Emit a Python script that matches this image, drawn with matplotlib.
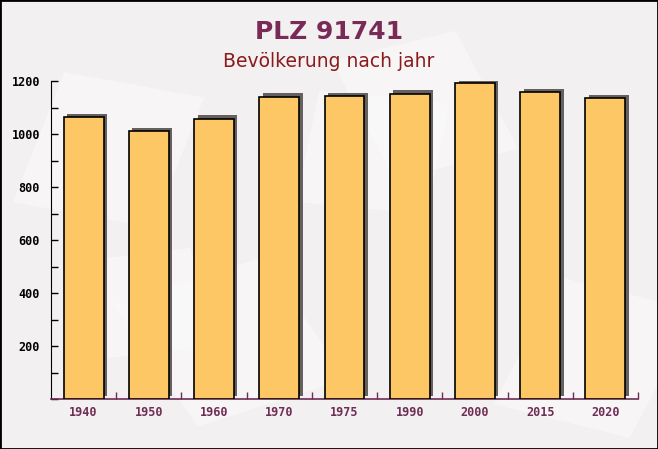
import matplotlib
matplotlib.use("Agg")
import matplotlib.pyplot as plt
from matplotlib.transforms import ScaledTranslation
from matplotlib.patches import Rectangle
from matplotlib.ticker import MultipleLocator

years = ["1940", "1950", "1960", "1970", "1975", "1990", "2000", "2015", "2020"]
population = [1064, 1011, 1057, 1140, 1143, 1151, 1193, 1157, 1135]
y_ticks = [200, 400, 600, 800, 1000, 1200]

bg = "#f3f0f1"
bar_color = "#fdc766"
shadow_color = "#676061"
title_color = "#7a2a57"
subtitle_color = "#8b1a1a"
xlabel_color = "#6e2d55"

fig = plt.figure(figsize=(6.58, 4.49), dpi=100)
fig.patch.set_facecolor(bg)

# faint background shapes (decoration only)
for (x, y, w, h, ang) in [(0.02, 0.55, 0.22, 0.3, -15), (0.3, 0.05, 0.25, 0.3, 25),
                          (0.6, 0.6, 0.2, 0.28, 20), (0.75, 0.1, 0.22, 0.3, -20),
                          (0.15, 0.2, 0.18, 0.22, 10), (0.45, 0.55, 0.2, 0.25, -8)]:
    fig.patches.append(Rectangle((x, y), w, h, angle=ang, transform=fig.transFigure,
                                 facecolor="white", alpha=0.35, edgecolor="none", zorder=-5))

ax = fig.add_axes([51 / 658, 50 / 449, 587 / 658, 318 / 449])
ax.set_facecolor("none")

xs = list(range(len(years)))
shadow = ax.transData + ScaledTranslation(3.5 / 100, 3.5 / 100, fig.dpi_scale_trans)
ax.bar(xs, population, width=0.61, color=shadow_color, transform=shadow, zorder=2)
ax.bar(xs, population, width=0.61, color=bar_color, edgecolor="black",
       linewidth=1.2, zorder=3)

ax.set_xlim(-0.5, len(years) - 0.5)
ax.set_ylim(0, 1200)
ax.set_yticks(y_ticks)
ax.yaxis.set_minor_locator(MultipleLocator(100))
ax.set_xticks(xs)
ax.set_xticklabels(years)
ax.set_xticks([i + 0.5 for i in xs], minor=True)

for s in ["top", "right"]:
    ax.spines[s].set_visible(False)
ax.spines["left"].set_color("black")
ax.spines["bottom"].set_color(xlabel_color)
ax.spines["bottom"].set_linewidth(1.2)

ax.tick_params(axis="y", which="both", direction="in", length=5, width=1,
               labelsize=8.5, pad=8)
ax.tick_params(axis="x", which="major", length=0, pad=5, labelsize=8.5,
               labelcolor=xlabel_color)
ax.tick_params(axis="x", which="minor", direction="in", length=5, width=1,
               color=xlabel_color)
for lab in ax.get_yticklabels() + ax.get_xticklabels():
    lab.set_fontfamily("DejaVu Sans Mono")
    lab.set_fontweight("bold")

fig.text(0.5, 1 - 39 / 449, "PLZ 91741", ha="center", va="baseline", fontsize=18,
         fontweight="bold", color=title_color)
fig.text(0.5, 1 - 66.7 / 449, "Bevölkerung nach jahr", ha="center", va="baseline",
         fontsize=13.5, color=subtitle_color)

fig.patches.append(Rectangle((0, 0), 1, 1, transform=fig.transFigure, fill=False,
                             edgecolor="black", linewidth=2, zorder=10))

fig.savefig("out.png", dpi=100, facecolor=bg)
